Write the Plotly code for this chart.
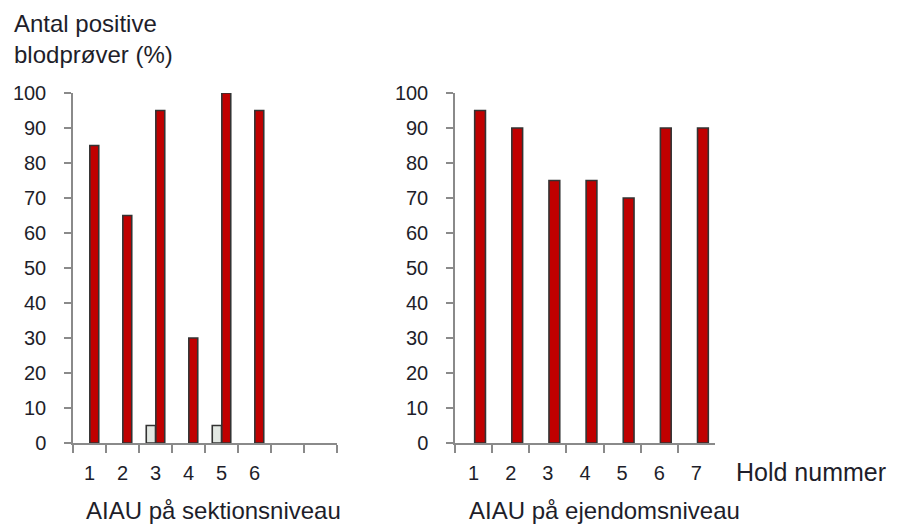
import plotly.graph_objects as go

# Hold (team) numbers and share of positive blood samples (%)
sektion_hold = ["1", "2", "3", "4", "5", "6"]
sektion_positive = [85, 65, 95, 30, 100, 95]
sektion_lav = [0, 0, 5, 0, 5, 0]
sektion_kategorier = ["1", "2", "3", "4", "5", "6", "7", "8"]

ejendom_hold = ["1", "2", "3", "4", "5", "6", "7"]
ejendom_positive = [95, 90, 75, 75, 70, 90, 90]

y_ticks = [0, 10, 20, 30, 40, 50, 60, 70, 80, 90, 100]

FONT = "Liberation Sans, Arial, sans-serif"
RED = "#C00000"
LIGHT = "#E3E8E3"
EDGE = "#333333"
AXIS = "#8a8a8a"
TEXT = "#1e1e2a"

fig = go.Figure()

# zero-height bars get no outline so nothing is drawn on the axis
fig.add_trace(go.Bar(
    x=sektion_hold, y=sektion_lav, xaxis="x", yaxis="y",
    marker=dict(color=LIGHT,
                line=dict(color=EDGE, width=[1.6 if v else 0 for v in sektion_lav])),
    width=0.28, offset=-0.28, showlegend=False,
))
fig.add_trace(go.Bar(
    x=sektion_hold, y=sektion_positive, xaxis="x", yaxis="y",
    marker=dict(color=RED, line=dict(color=EDGE, width=1.6)),
    width=0.27, offset=0.01, showlegend=False,
))
fig.add_trace(go.Bar(
    x=ejendom_hold, y=ejendom_positive, xaxis="x2", yaxis="y2",
    marker=dict(color=RED, line=dict(color=EDGE, width=1.6)),
    width=0.29, offset=0.03, showlegend=False,
))

W, H = 898, 524
y_dom = [(H - 443) / H, (H - 93) / H]

xcommon = dict(
    type="category", showgrid=False, zeroline=False, showline=True,
    linecolor=AXIS, linewidth=1.5, ticks="outside", ticklen=8,
    tickcolor=AXIS, tickwidth=1.5, tickson="boundaries",
    tickfont=dict(family=FONT, size=20, color=TEXT), ticklabelstandoff=11,
    fixedrange=True, automargin=False,
)
ycommon = dict(
    range=[0, 100], tickvals=y_ticks, showgrid=False, zeroline=False,
    showline=True, linecolor=AXIS, linewidth=1.5, ticks="outside",
    ticklen=7, tickcolor=AXIS, tickwidth=1.5,
    tickfont=dict(family=FONT, size=20, color=TEXT), ticklabelstandoff=14,
    domain=y_dom, fixedrange=True, automargin=False,
)

fig.update_layout(
    width=W, height=H,
    margin=dict(l=0, r=0, t=0, b=0, autoexpand=False),
    paper_bgcolor="white", plot_bgcolor="white",
    barmode="overlay",
    xaxis=dict(xcommon, domain=[73 / W, 337 / W], anchor="y",
               categoryorder="array", categoryarray=sektion_kategorier,
               tickmode="array", tickvals=sektion_kategorier,
               ticktext=sektion_hold + ["", ""],
               range=[-0.5, len(sektion_kategorier) - 0.5]),
    yaxis=dict(ycommon, anchor="x"),
    xaxis2=dict(xcommon, domain=[455 / W, 715 / W], anchor="y2",
                categoryorder="array", categoryarray=ejendom_hold,
                range=[-0.5, len(ejendom_hold) - 0.5]),
    yaxis2=dict(ycommon, anchor="x2"),
    annotations=[
        dict(text="Antal positive<br>blodprøver (%)", x=12 / W, y=1 - 8 / H,
             xref="paper", yref="paper", xanchor="left", yanchor="top",
             align="left", showarrow=False,
             font=dict(family=FONT, size=24, color=TEXT)),
        dict(text="AIAU på sektionsniveau", x=84 / W, y=1 - 510 / H,
             xref="paper", yref="paper", xanchor="left", yanchor="middle",
             showarrow=False, font=dict(family=FONT, size=24, color=TEXT)),
        dict(text="AIAU på ejendomsniveau", x=467 / W, y=1 - 510 / H,
             xref="paper", yref="paper", xanchor="left", yanchor="middle",
             showarrow=False, font=dict(family=FONT, size=24, color=TEXT)),
        dict(text="Hold nummer", x=734 / W, y=1 - 472 / H,
             xref="paper", yref="paper", xanchor="left", yanchor="middle",
             showarrow=False, font=dict(family=FONT, size=25, color=TEXT)),
    ],
)

fig.write_html("out.html", config={"displayModeBar": False})
